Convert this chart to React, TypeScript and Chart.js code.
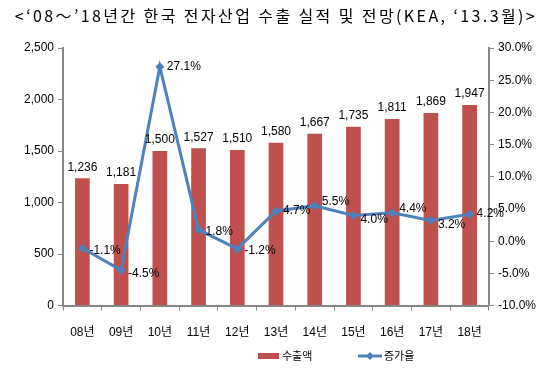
import React, { useEffect, useRef } from "react";
import { Chart, registerables } from "chart.js";

Chart.register(...registerables);

const categories = ["08년", "09년", "10년", "11년", "12년", "13년", "14년", "15년", "16년", "17년", "18년"];
const exportValues = [1236, 1181, 1500, 1527, 1510, 1580, 1667, 1735, 1811, 1869, 1947];
const growthRates = [-1.1, -4.5, 27.1, 1.8, -1.2, 4.7, 5.5, 4.0, 4.4, 3.2, 4.2];
const seriesNames = ["수출액", "증가율"];
const titleText = "<‘08～’18년간 한국 전자산업 수출 실적 및 전망(KEA, ‘13.3월)>";

const FONT = "'Liberation Sans', 'Noto Sans CJK KR', sans-serif";
const TITLE_FONT = "'Noto Sans CJK KR', sans-serif";
const BAR_COLOR = "#C0504D";
const LINE_COLOR = "#4F81BD";
const AXIS_COLOR = "#868686";

const lineLabelDy = [2, 4, 0, 2, 2, 0, -4, 4, -4, 4, 0];

const withCommas = (v: number) => String(Math.round(v)).replace(/\B(?=(\d{3})+(?!\d))/g, ",");

const labelPlugin = {
  id: "customLabels",
  afterDatasetsDraw(chart: any) {
    const ctx = chart.ctx;
    ctx.save();
    ctx.font = `12px ${FONT}`;
    ctx.fillStyle = "#000";
    const barMeta = chart.getDatasetMeta(0);
    ctx.textAlign = "center";
    ctx.textBaseline = "bottom";
    barMeta.data.forEach((el: any, i: number) => {
      ctx.fillText(withCommas(exportValues[i]), el.x, el.y - 5);
    });
    const lineMeta = chart.getDatasetMeta(1);
    ctx.textAlign = "left";
    ctx.textBaseline = "middle";
    lineMeta.data.forEach((el: any, i: number) => {
      ctx.fillText(growthRates[i].toFixed(1) + "%", el.x + 7, el.y + lineLabelDy[i]);
    });
    ctx.restore();
  },
};

const titlePlugin = {
  id: "customTitle",
  afterDraw(chart: any) {
    const ctx = chart.ctx;
    ctx.save();
    ctx.font = `16px ${TITLE_FONT}`;
    (ctx as any).letterSpacing = "2.4px";
    ctx.fillStyle = "#000";
    ctx.textAlign = "center";
    ctx.textBaseline = "middle";
    ctx.fillText(titleText, 276, 16);
    ctx.restore();
  },
};

const legendPlugin = {
  id: "customLegend",
  afterDraw(chart: any) {
    const ctx = chart.ctx;
    ctx.save();
    const y = 356;
    let x = 258;
    ctx.fillStyle = BAR_COLOR;
    ctx.fillRect(x, y - 3, 21, 6);
    ctx.font = `11px ${FONT}`;
    ctx.fillStyle = "#000";
    ctx.textBaseline = "middle";
    ctx.textAlign = "left";
    ctx.fillText(seriesNames[0], x + 24, y + 1);
    x = 358;
    ctx.strokeStyle = LINE_COLOR;
    ctx.lineWidth = 3;
    ctx.beginPath();
    ctx.moveTo(x, y);
    ctx.lineTo(x + 24, y);
    ctx.stroke();
    ctx.fillStyle = LINE_COLOR;
    ctx.beginPath();
    ctx.moveTo(x + 12, y - 4);
    ctx.lineTo(x + 16, y);
    ctx.lineTo(x + 12, y + 4);
    ctx.lineTo(x + 8, y);
    ctx.closePath();
    ctx.fill();
    ctx.fillStyle = "#000";
    ctx.fillText(seriesNames[1], x + 26, y + 1);
    ctx.restore();
  },
};

export default function App() {
  const ref = useRef<HTMLCanvasElement>(null);
  useEffect(() => {
    if (!ref.current) return;
    const chart = new Chart(ref.current, {
      type: "bar",
      data: {
        labels: categories,
        datasets: [
          {
            type: "bar",
            label: seriesNames[0],
            data: exportValues,
            backgroundColor: BAR_COLOR,
            yAxisID: "y",
            order: 1,
            categoryPercentage: 1,
            barPercentage: 0.38,
          },
          {
            type: "line",
            label: seriesNames[1],
            data: growthRates,
            borderColor: LINE_COLOR,
            backgroundColor: LINE_COLOR,
            borderWidth: 3,
            pointStyle: "rectRot",
            pointRadius: 4.5,
            pointBorderWidth: 0,
            yAxisID: "y1",
            order: 0,
            tension: 0,
          } as any,
        ],
      },
      options: {
        animation: false,
        responsive: false,
        maintainAspectRatio: false,
        layout: { padding: { left: 20, right: 10, top: 48, bottom: 24 } },
        plugins: {
          legend: { display: false },
          tooltip: { enabled: false },
          title: { display: false },
        },
        scales: {
          x: {
            grid: { display: true, drawOnChartArea: false, drawTicks: true, tickLength: 5, color: AXIS_COLOR, offset: true },
            border: { color: AXIS_COLOR, width: 2 },
            ticks: { color: "#000", font: { family: FONT, size: 12 }, padding: 15 },
          },
          y: {
            position: "left",
            min: 0,
            max: 2500,
            grid: { drawOnChartArea: false, drawTicks: true, tickLength: 5, color: AXIS_COLOR },
            border: { color: AXIS_COLOR, width: 2 },
            ticks: {
              stepSize: 500,
              color: "#000",
              font: { family: FONT, size: 12 },
              padding: 4,
              callback: (v: any) => withCommas(Number(v)),
            },
          },
          y1: {
            position: "right",
            min: -10,
            max: 30,
            grid: { drawOnChartArea: false, drawTicks: true, tickLength: 5, color: AXIS_COLOR },
            border: { color: AXIS_COLOR, width: 2 },
            ticks: {
              stepSize: 5,
              color: "#000",
              font: { family: FONT, size: 12 },
              padding: 4,
              callback: (v: any) => Number(v).toFixed(1) + "%",
            },
          },
        },
      },
      plugins: [labelPlugin, legendPlugin, titlePlugin],
    });
    return () => chart.destroy();
  }, []);
  return (
    <div style={{ position: "absolute", left: 0, top: 0, width: 550, height: 379, background: "#fff" }}>
      <canvas ref={ref} width={550} height={379} />
    </div>
  );
}
